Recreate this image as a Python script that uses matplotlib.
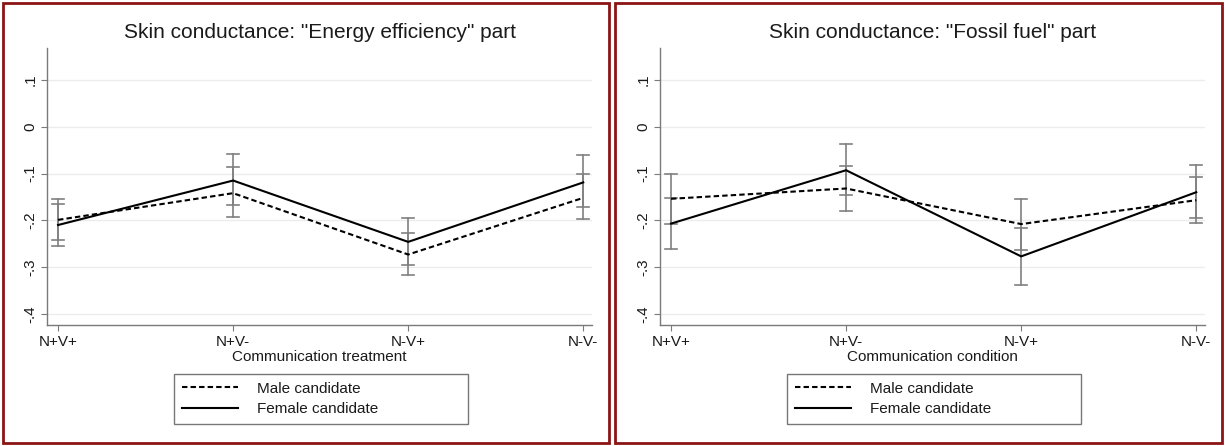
import matplotlib
matplotlib.use("Agg")
import matplotlib.pyplot as plt
from matplotlib.patches import Rectangle

plt.rcParams['font.family'] = ['Liberation Sans', 'DejaVu Sans']

# ── DATA ──────────────────────────────────────────────────────────────────────
conditions = ["N+V+", "N+V-", "N-V+", "N-V-"]

# "Energy efficiency" part
ee_male       = [-0.199, -0.142, -0.273, -0.152]
ee_male_lo    = [-0.243, -0.192, -0.317, -0.197]
ee_male_hi    = [-0.165, -0.087, -0.226, -0.100]
ee_female     = [-0.210, -0.115, -0.246, -0.119]
ee_female_lo  = [-0.254, -0.167, -0.295, -0.171]
ee_female_hi  = [-0.154, -0.058, -0.194, -0.061]

# "Fossil fuel" part
ff_male       = [-0.154, -0.132, -0.208, -0.157]
ff_male_lo    = [-0.208, -0.180, -0.263, -0.206]
ff_male_hi    = [-0.100, -0.083, -0.154, -0.107]
ff_female     = [-0.207, -0.093, -0.277, -0.140]
ff_female_lo  = [-0.261, -0.146, -0.338, -0.195]
ff_female_hi  = [-0.152, -0.038, -0.216, -0.082]

yticks = [0.1, 0.0, -0.1, -0.2, -0.3, -0.4]
ytick_labels = [".1", "0", "-.1", "-.2", "-.3", "-.4"]

panels = [
    ('Skin conductance: "Energy efficiency" part', "Communication treatment",
     ee_male, ee_male_lo, ee_male_hi, ee_female, ee_female_lo, ee_female_hi),
    ('Skin conductance: "Fossil fuel" part', "Communication condition",
     ff_male, ff_male_lo, ff_male_hi, ff_female, ff_female_lo, ff_female_hi),
]

W, H = 1225, 446
fig = plt.figure(figsize=(W / 100, H / 100), dpi=100)

BORDER = "#8b1414"
AXCOL = "#7a7a7a"
ERRCOL = "#808080"
TXT = "#1a1a1a"

frames = [(3, 609), (615, 1222)]
ax_left = [47, 660]

for i, (title, xlabel, m, mlo, mhi, f, flo, fhi) in enumerate(panels):
    x0, x1 = frames[i]
    fig.patches.append(Rectangle((x0 / W, 3 / H), (x1 - x0) / W, (443 - 3) / H,
                                 transform=fig.transFigure, fill=False,
                                 edgecolor=BORDER, linewidth=2.0, zorder=10))

    ax = fig.add_axes([ax_left[i] / W, (H - 325) / H, 545 / W, 277 / H])
    xs = list(range(1, len(conditions) + 1))

    # error bars
    for xv, lo, hi in list(zip(xs, mlo, mhi)) + list(zip(xs, flo, fhi)):
        ax.plot([xv, xv], [lo, hi], color=ERRCOL, lw=1.2, zorder=2)
        for yv in (lo, hi):
            ax.plot([xv - 0.035, xv + 0.035], [yv, yv], color=ERRCOL, lw=1.2, zorder=2)

    ax.plot(xs, m, color="black", lw=1.5, ls=(0, (2.6, 1.5)), label="Male candidate", zorder=3)
    ax.plot(xs, f, color="black", lw=1.5, ls="-", label="Female candidate", zorder=3)

    ax.set_xlim(0.937, 4.05)
    ax.set_ylim(-0.4235, 0.168)
    ax.set_yticks(yticks)
    ax.set_yticklabels(ytick_labels, rotation=90, va="center", fontsize=11, color=TXT)
    ax.set_xticks(xs)
    ax.set_xticklabels(conditions, fontsize=11, color=TXT)
    ax.tick_params(axis="both", colors=AXCOL, labelcolor=TXT, length=4, width=0.8, pad=3)
    ax.tick_params(axis="y", pad=3)
    ax.grid(axis="y", color="#ececec", lw=1.0, zorder=0)
    ax.set_axisbelow(True)
    for s in ("top", "right"):
        ax.spines[s].set_visible(False)
    for s in ("left", "bottom"):
        ax.spines[s].set_color(AXCOL)
        ax.spines[s].set_linewidth(1.0)

    ax.set_title(title, fontsize=15, color=TXT, pad=7)
    ax.set_xlabel(xlabel, fontsize=11, color=TXT, labelpad=1)

    leg = ax.legend(loc="upper left", bbox_to_anchor=(127 / 545, -0.177 - 0.18, 294 / 545, 0.18),
                    mode="expand", fontsize=11, handlelength=3.7, handletextpad=1.25,
                    borderpad=0.5, labelspacing=0.42, borderaxespad=0, fancybox=False,
                    frameon=True)
    leg.get_frame().set_edgecolor("#555555")
    leg.get_frame().set_linewidth(1.0)
    for t in leg.get_texts():
        t.set_color(TXT)

fig.savefig("out.png", dpi=100)
